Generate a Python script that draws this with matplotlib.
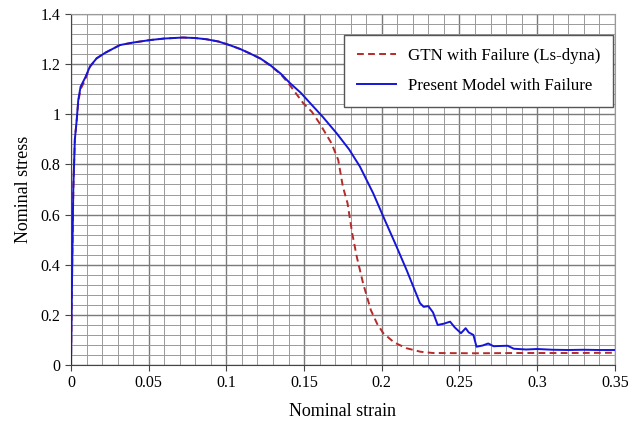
import numpy as np
import matplotlib
matplotlib.use('Agg')
import matplotlib.pyplot as plt
from matplotlib.ticker import MultipleLocator, FuncFormatter

# strain / stress
gtn_strain = [0, 0.0008, 0.0015, 0.0025, 0.0037, 0.0047, 0.0062, 0.009, 0.0122, 0.0165,
              0.022, 0.0315, 0.04, 0.051, 0.06, 0.072, 0.08, 0.0873, 0.095, 0.102,
              0.109, 0.115, 0.122, 0.128, 0.135, 0.141, 0.1495, 0.155, 0.160, 0.1677,
              0.172, 0.175, 0.178, 0.181, 0.184, 0.188, 0.193, 0.197, 0.201, 0.208,
              0.216, 0.225, 0.233, 0.26, 0.29, 0.32, 0.35]
gtn_stress = [0, 0.4, 0.7, 0.9, 0.977, 1.05, 1.1, 1.135, 1.19, 1.223,
              1.245, 1.276, 1.286, 1.296, 1.302, 1.306, 1.304, 1.299, 1.29, 1.276,
              1.26, 1.243, 1.222, 1.195, 1.16, 1.115, 1.044, 1.01, 0.964, 0.884,
              0.818, 0.711, 0.645, 0.525, 0.43, 0.326, 0.219, 0.165, 0.127, 0.09,
              0.067, 0.053, 0.048, 0.047, 0.048, 0.048, 0.049]

model_strain = [0, 0.0008, 0.0015, 0.0025, 0.0037, 0.0047, 0.0062, 0.009, 0.0122, 0.0165,
                0.022, 0.0315, 0.04, 0.051, 0.06, 0.072, 0.08, 0.0873, 0.095, 0.102,
                0.109, 0.115, 0.122, 0.128, 0.135, 0.141, 0.148, 0.154, 0.162, 0.171,
                0.179, 0.186, 0.1945, 0.202, 0.209, 0.216, 0.2246, 0.227, 0.23, 0.233,
                0.236, 0.240, 0.244, 0.247, 0.251, 0.254, 0.256, 0.259, 0.261, 0.265,
                0.2685, 0.272, 0.276, 0.281, 0.285, 0.293, 0.30, 0.31, 0.32, 0.33,
                0.34, 0.35]
model_stress = [0, 0.4, 0.7, 0.9, 0.977, 1.057, 1.11, 1.144, 1.19, 1.223,
                1.245, 1.276, 1.286, 1.296, 1.302, 1.306, 1.304, 1.299, 1.29, 1.276,
                1.26, 1.243, 1.222, 1.197, 1.162, 1.124, 1.085, 1.044, 0.99, 0.924,
                0.86, 0.791, 0.685, 0.578, 0.48, 0.379, 0.247, 0.232, 0.235, 0.21,
                0.16, 0.165, 0.173, 0.15, 0.127, 0.147, 0.13, 0.12, 0.073, 0.078,
                0.086, 0.075, 0.076, 0.077, 0.065, 0.062, 0.064, 0.061, 0.06, 0.061,
                0.06, 0.06]

plt.rcParams['font.family'] = ['Liberation Serif', 'DejaVu Serif']

fig = plt.figure(figsize=(6.28, 4.23), dpi=100)
ax = fig.add_axes([0.113, 0.137, 0.866, 0.83])

ax.plot(gtn_strain, gtn_stress, color='#b52a2a', linestyle=(0, (3.5, 2.2)), linewidth=1.4,
        label='GTN with Failure (Ls-dyna)', zorder=3)
ax.plot(model_strain, model_stress, color='#1515d8', linewidth=1.4,
        label='Present Model with Failure', zorder=4)

ax.set_xlim(0, 0.35)
ax.set_ylim(0, 1.4)
ax.xaxis.set_major_locator(MultipleLocator(0.05))
ax.xaxis.set_minor_locator(MultipleLocator(0.01))
ax.yaxis.set_major_locator(MultipleLocator(0.2))
ax.yaxis.set_minor_locator(MultipleLocator(0.04))
fmt = FuncFormatter(lambda v, p: '%g' % round(v, 3))
ax.xaxis.set_major_formatter(fmt)
ax.yaxis.set_major_formatter(fmt)

ax.grid(which='major', color='#7a7a7a', linewidth=1.0)
ax.grid(which='minor', color='#9a9a9a', linewidth=0.7)
ax.set_axisbelow(True)

for s in ['top', 'right']:
    ax.spines[s].set_color('#9a9a9a')
for s in ['left', 'bottom']:
    ax.spines[s].set_color('#444444')
ax.tick_params(which='major', direction='out', length=4, labelsize=11.5, color='#444444')
ax.tick_params(which='minor', length=0)

ax.set_xlabel('Nominal strain', fontsize=13, labelpad=8)
ax.set_ylabel('Nominal stress', fontsize=13, labelpad=6)

lgd = ax.legend(loc='upper right', bbox_to_anchor=(0.996, 0.94), borderaxespad=0,
                fontsize=12.2, fancybox=False, framealpha=1, edgecolor='#555555',
                handlelength=2.3, borderpad=0.75, labelspacing=0.85, handletextpad=0.7)
lgd.get_frame().set_linewidth(1.0)

fig.savefig('out.png', dpi=100)
